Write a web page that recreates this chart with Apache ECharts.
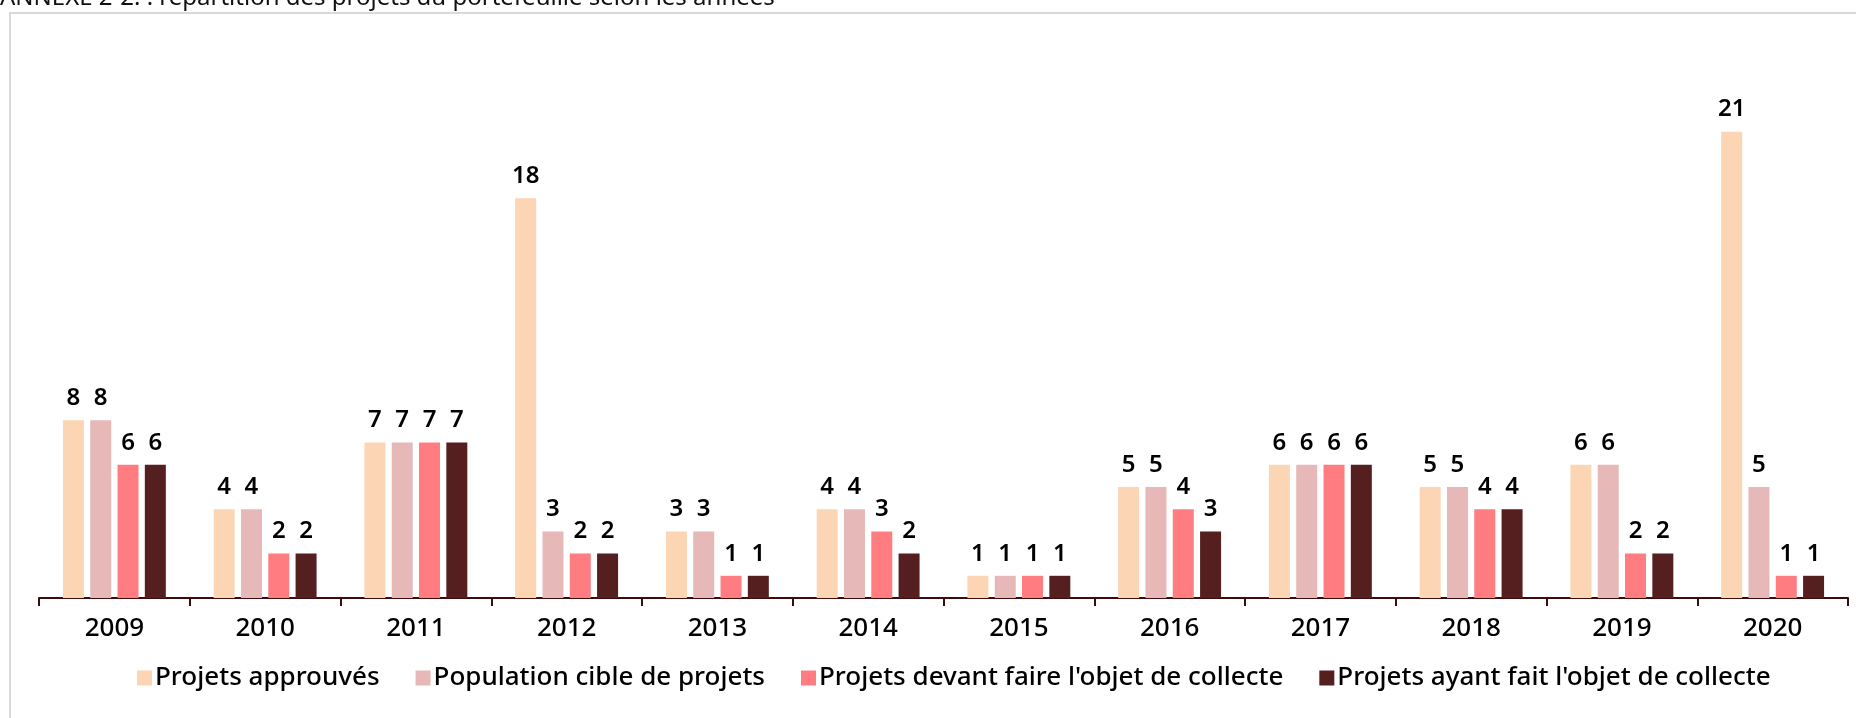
<!DOCTYPE html>
<html>
<head>
<meta charset="utf-8">
<script src="https://cdn.jsdelivr.net/npm/echarts@6/dist/echarts.min.js"></script>
<style>
  html, body { margin: 0; padding: 0; background: #fff; }
  #chart { width: 1856px; height: 718px; }
</style>
</head>
<body>
<div id="chart"></div>
<script>
const years = ['2009', '2010', '2011', '2012', '2013', '2014', '2015', '2016', '2017', '2018', '2019', '2020']
const approuves = [8, 4, 7, 18, 3, 4, 1, 5, 6, 5, 6, 21]
const populationCible = [8, 4, 7, 3, 3, 4, 1, 5, 6, 5, 6, 5]
const devantCollecte = [6, 2, 7, 2, 1, 3, 1, 4, 6, 4, 2, 1]
const ayantCollecte = [6, 2, 7, 2, 1, 2, 1, 3, 6, 4, 2, 1]

const seriesDefs = [
  { name: 'Projets approuvés', data: approuves, color: '#FCD5B5' },
  { name: 'Population cible de projets', data: populationCible, color: '#E6B9B8' },
  { name: "Projets devant faire l'objet de collecte", data: devantCollecte, color: '#FF7C80' },
  { name: "Projets ayant fait l'objet de collecte", data: ayantCollecte, color: '#561F1F' },
]

const font = 'Noto Sans'
const chart = echarts.init(document.getElementById('chart'))

chart.setOption({
  backgroundColor: '#fff',
  animation: false,
  title: {
    text: 'ANNEXE 2-2. : répartition des projets du portefeuille selon les années',
    left: 0,
    top: -14,
    padding: 0,
    textStyle: { fontFamily: font, fontSize: 24, fontWeight: 'normal', color: '#111' },
  },
  graphic: [{
    type: 'rect',
    z: -1,
    shape: { x: 10, y: 13, width: 1900, height: 800 },
    style: { fill: 'none', stroke: '#d9d9d9', lineWidth: 2 },
  }],
  legend: {
    bottom: 22,
    left: 132,
    itemWidth: 15,
    itemHeight: 15,
    itemGap: 36,
    icon: 'rect',
    textStyle: { fontFamily: font, fontSize: 26, fontWeight: 500, color: '#000', padding: [0, 0, 0, -2] },
  },
  grid: { left: 39, right: 8, top: 65, bottom: 120, containLabel: false },
  xAxis: {
    type: 'category',
    data: years,
    axisLine: { lineStyle: { color: '#3d0b0b', width: 2 } },
    axisTick: { show: true, length: 8, lineStyle: { color: '#3d0b0b', width: 2 } },
    axisLabel: { fontFamily: font, fontSize: 26, fontWeight: 500, color: '#000', margin: 18 },
  },
  yAxis: {
    type: 'value',
    min: 0,
    max: 24,
    show: false,
    splitLine: { show: false },
  },
  series: seriesDefs.map((s) => ({
    name: s.name,
    type: 'bar',
    data: s.data,
    barWidth: 21,
    barGap: '30%',
    itemStyle: { color: s.color },
    label: {
      show: true,
      position: 'top',
      distance: 10,
      fontFamily: font,
      fontSize: 24,
      fontWeight: 600,
      color: '#000',
    },
  })),
})
</script>
</body>
</html>
